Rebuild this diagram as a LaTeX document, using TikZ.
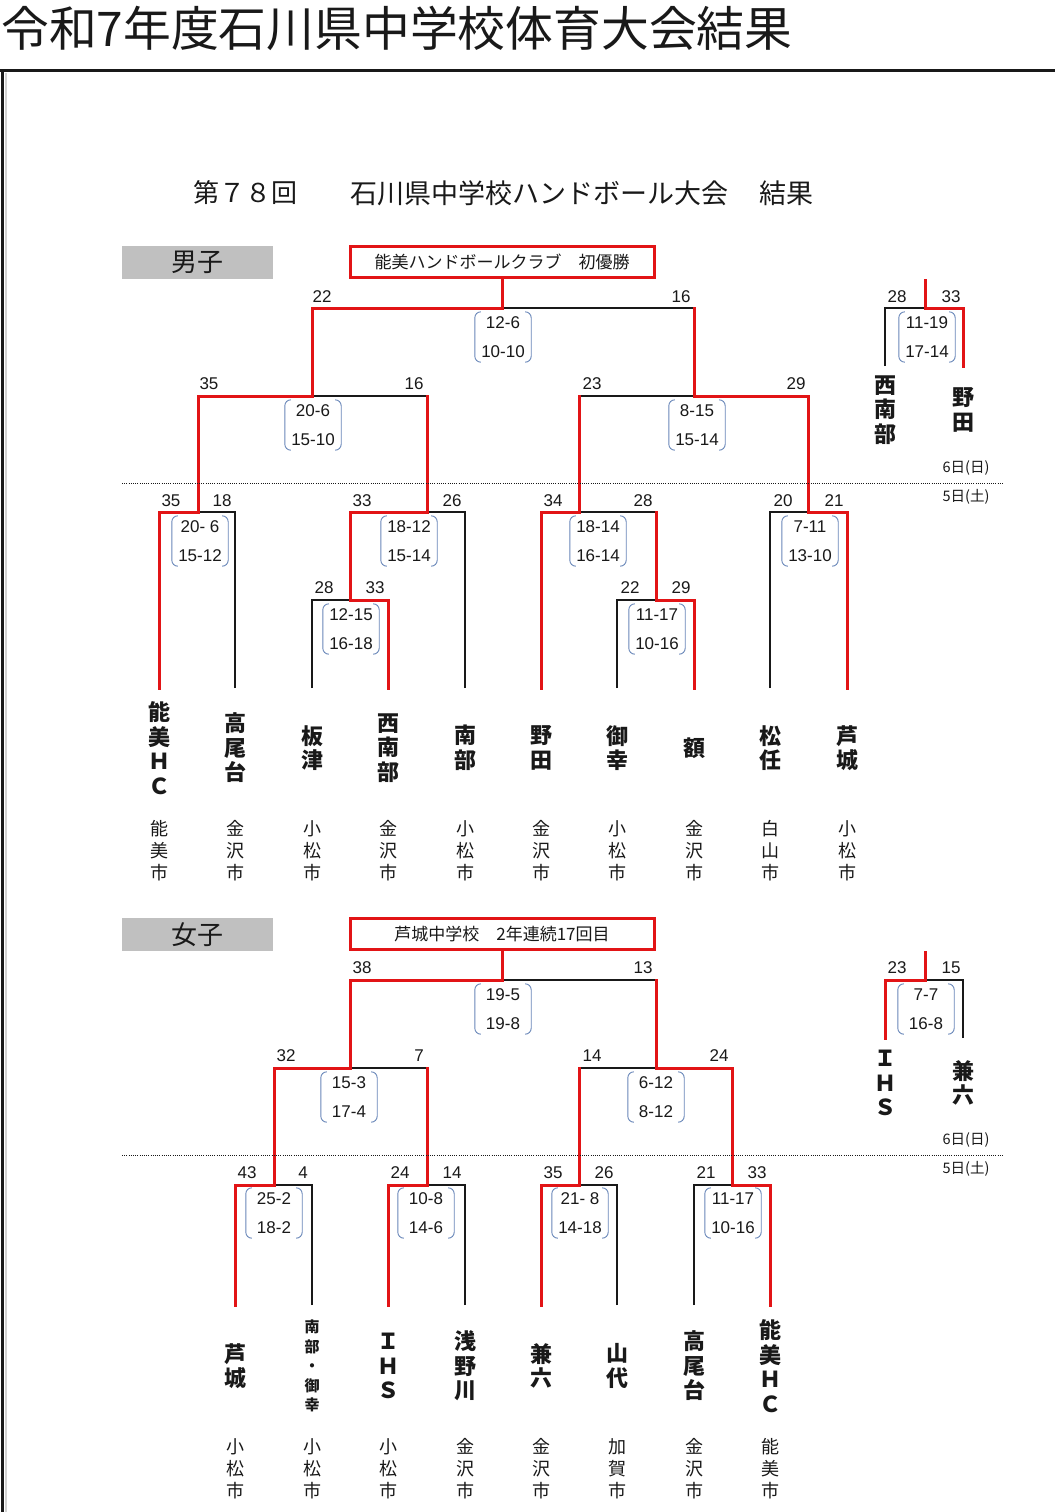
\documentclass[tikz,border=0pt]{standalone}
\usepackage{fontspec}
\setmainfont{Noto Sans CJK JP}
\newfontfamily\numfont{Liberation Sans}
\definecolor{hred}{RGB}{226,20,22}
\definecolor{boxgray}{RGB}{192,192,192}
\definecolor{bktc}{RGB}{105,135,185}
\definecolor{ink}{RGB}{25,25,25}
\tikzset{
 win/.style={draw=hred, line width=3pt, line cap=rect},
 lose/.style={draw=ink, line width=1.2pt},
 num/.style={font=\numfont\fontsize{17}{17}\selectfont, inner sep=0, text=ink},
 scorebox/.style={minimum width=56pt, minimum height=50pt, align=center, inner sep=0, text=ink, font=\numfont\fontsize{17}{29}\selectfont},
 bkt/.style={draw=bktc, line width=0.9pt, rounded corners=6pt},
 tname/.style={align=center, inner sep=0, text=ink, font=\bfseries\fontsize{22}{24.5}\selectfont},
 tsmall/.style={align=center, inner sep=0, text=ink, font=\bfseries\fontsize{15}{19.5}\selectfont},
 city/.style={align=center, inner sep=0, text=ink, font=\fontsize{18}{22}\selectfont},
 champ/.style={draw=hred, line width=3pt, minimum width=304pt, minimum height=31pt, inner sep=0, text=ink, font=\fontsize{17}{17}\selectfont},
 sexbox/.style={fill=boxgray, minimum width=151pt, minimum height=33pt, inner sep=0, text=ink, font=\fontsize{26}{26}\selectfont},
 datelbl/.style={font=\fontsize{14.5}{14.5}\selectfont, inner sep=0, text=ink},
 dotline/.style={draw=ink, line width=0.9pt, dash pattern=on 1pt off 1.2pt}
}
\newcommand\scorebx[4]{%
 \node[scorebox] (#1) at (#2,#3) {#4};
 \draw[bkt] ([xshift=6pt]#1.north west) -- (#1.north west) -- (#1.south west) -- ([xshift=6pt]#1.south west);
 \draw[bkt] ([xshift=-6pt]#1.north east) -- (#1.north east) -- (#1.south east) -- ([xshift=-6pt]#1.south east);
}
\begin{document}
\begin{tikzpicture}[x=1pt,y=-1pt]
\useasboundingbox (0,0) rectangle (1055,1512);
\fill[white] (0,0) rectangle (1055,1512);
% page title and frame
\node[anchor=west, inner sep=0, text=ink, font=\fontsize{47.8}{47.8}\selectfont] (title) at (1,28) {令和7年度石川県中学校体育大会結果};
\draw[ink, line width=3pt] (0,71) -- (1055,71);
\draw[ink, line width=3pt] (2.5,70) -- (2.5,1512);
\draw[gray!35, line width=2pt] (5.5,73) -- (5.5,1512);
% subtitle
\node[inner sep=0, text=ink, font=\fontsize{26}{26}\selectfont] (sub1) at (245,193) {第７８回};
\node[anchor=west, inner sep=0, text=ink, font=\fontsize{27}{27}\selectfont] (sub2) at (350,193) {石川県中学校ハンドボール大会};
\node[anchor=west, inner sep=0, text=ink, font=\fontsize{27}{27}\selectfont] (sub3) at (759,193) {結果};

%================ BOYS ================
\node[sexbox] (boys) at (197.5,262.5) {男子};
\node[champ] (bchamp) at (502,262) {能美ハンドボールクラブ　初優勝};
\foreach \i/\x in {1/159,2/235,3/312,4/388,5/465,6/541,7/617,8/694,9/770,10/847}
  \coordinate (bl\i) at (\x,688);
\coordinate (br1) at (350,600);
\coordinate (br2) at (656,600);
\coordinate (bq1) at (198,512);
\coordinate (bq2) at (427,512);
\coordinate (bq3) at (579,512);
\coordinate (bq4) at (808,512);
\coordinate (bs1) at (312,396);
\coordinate (bs2) at (694,396);
\coordinate (bf) at (502,308);
\coordinate (b3) at (925,308);
\coordinate (b3l) at (885,366);
\coordinate (b3r) at (963,366);
\coordinate (b3top) at (925,280);
% losing (black) lines
\draw[lose] (bl2) |- (bq1);
\draw[lose] (bl3) |- (br1);
\draw[lose] (bl5) |- (bq2);
\draw[lose] (bq2 |- bs1) -- (bs1);
\draw[lose] (bl7) |- (br2);
\draw[lose] (br2 |- bq3) -- (bq3);
\draw[lose] (bl9) |- (bq4);
\draw[lose] (bq3 |- bs2) -- (bs2);
\draw[lose] (bs2 |- bf) -- (bf);
\draw[lose] (b3l) |- (b3);
% winning (red) lines
\draw[win] (bl1) |- (bq1);
\draw[win] (bl4) |- (br1);
\draw[win] (br1) |- (bq2);
\draw[win] (bq1) |- (bs1);
\draw[win] (bq2) -- (bq2 |- bs1);
\draw[win] (bl6) |- (bq3);
\draw[win] (bl8) |- (br2);
\draw[win] (br2) -- (br2 |- bq3);
\draw[win] (bl10) |- (bq4);
\draw[win] (bq3) -- (bq3 |- bs2);
\draw[win] (bq4) |- (bs2);
\draw[win] (bs1) |- (bf);
\draw[win] (bs2) -- (bs2 |- bf);
\draw[win] (bf) -- (bchamp.south);
\draw[win] (b3r) |- (b3);
\draw[win] (b3) -- (b3top);
% goal numbers
\foreach \n/\x/\y/\t in {bn1/322/297/22, bn2/681/297/16, bn3/209/384/35, bn4/414/384/16, bn5/592/384/23, bn6/796/384/29,
  bn7/171/501/35, bn8/222/501/18, bn9/362/501/33, bn10/452/501/26, bn11/324/588/28, bn12/375/588/33,
  bn13/553/501/34, bn14/643/501/28, bn15/630/588/22, bn16/681/588/29, bn17/783/501/20, bn18/834/501/21,
  bn19/897/297/28, bn20/951/297/33}
  \node[num] (\n) at (\x,\y) {\t};
% half scores
\scorebx{bsc1}{503}{337}{12-6\\10-10}
\scorebx{bsc2}{313}{425}{20-6\\15-10}
\scorebx{bsc3}{697}{425}{8-15\\15-14}
\scorebx{bsc4}{200}{541}{20- 6\\15-12}
\scorebx{bsc5}{409}{541}{18-12\\15-14}
\scorebx{bsc6}{351}{629}{12-15\\16-18}
\scorebx{bsc7}{598}{541}{18-14\\16-14}
\scorebx{bsc8}{657}{629}{11-17\\10-16}
\scorebx{bsc9}{810}{541}{7-11\\13-10}
\scorebx{bsc10}{927}{337}{11-19\\17-14}
% dates
\draw[dotline] (122,483) -- (1003,483);
\node[datelbl] (bd6) at (966,468) {6日(日)};
\node[datelbl] (bd5) at (966,497) {5日(土)};
% team names
\node[tname] (nb1) at (159,748) {能\\美\\Ｈ\\Ｃ};
\node[tname] (nb2) at (235,748) {高\\尾\\台};
\node[tname] (nb3) at (312,748) {板\\津};
\node[tname] (nb4) at (388,748) {西\\南\\部};
\node[tname] (nb5) at (465,748) {南\\部};
\node[tname] (nb6) at (541,748) {野\\田};
\node[tname] (nb7) at (617,748) {御\\幸};
\node[tname] (nb8) at (694,748) {額};
\node[tname] (nb9) at (770,748) {松\\任};
\node[tname] (nb10) at (847,748) {芦\\城};
\node[tname] (nb3a) at (885,410) {西\\南\\部};
\node[tname] (nb3b) at (963,410) {野\\田};
\foreach \n/\x/\a/\b in {cb1/159/能/美, cb2/235/金/沢, cb3/312/小/松, cb4/388/金/沢, cb5/465/小/松,
  cb6/541/金/沢, cb7/617/小/松, cb8/694/金/沢, cb9/770/白/山, cb10/847/小/松}
  \node[city] (\n) at (\x,851) {\a\\\b\\市};

%================ GIRLS ================
\node[sexbox] (girls) at (197.5,934.5) {女子};
\node[champ] (gchamp) at (502,934) {芦城中学校　2年連続17回目};
\foreach \i/\x in {1/235,2/312,3/388,4/465,5/541,6/617,7/694,8/770}
  \coordinate (gl\i) at (\x,1305);
\coordinate (gq1) at (274,1185);
\coordinate (gq2) at (427,1185);
\coordinate (gq3) at (579,1185);
\coordinate (gq4) at (732,1185);
\coordinate (gs1) at (350,1068);
\coordinate (gs2) at (656,1068);
\coordinate (gf) at (502,980);
\coordinate (g3) at (925,980);
\coordinate (g3l) at (885,1038);
\coordinate (g3r) at (963,1038);
\coordinate (g3top) at (925,952);
\draw[lose] (gl2) |- (gq1);
\draw[lose] (gl4) |- (gq2);
\draw[lose] (gl6) |- (gq3);
\draw[lose] (gl7) |- (gq4);
\draw[lose] (gq2 |- gs1) -- (gs1);
\draw[lose] (gq3 |- gs2) -- (gs2);
\draw[lose] (gs2 |- gf) -- (gf);
\draw[lose] (g3r) |- (g3);
\draw[win] (gl1) |- (gq1);
\draw[win] (gl3) |- (gq2);
\draw[win] (gl5) |- (gq3);
\draw[win] (gl8) |- (gq4);
\draw[win] (gq1) |- (gs1);
\draw[win] (gq2) -- (gq2 |- gs1);
\draw[win] (gq3) -- (gq3 |- gs2);
\draw[win] (gq4) |- (gs2);
\draw[win] (gs1) |- (gf);
\draw[win] (gs2) -- (gs2 |- gf);
\draw[win] (gf) -- (gchamp.south);
\draw[win] (g3l) |- (g3);
\draw[win] (g3) -- (g3top);
\foreach \n/\x/\y/\t in {gn1/362/968/38, gn2/643/968/13, gn3/286/1056/32, gn4/419/1056/7, gn5/592/1056/14, gn6/719/1056/24,
  gn7/247/1173/43, gn8/303/1173/4, gn9/400/1173/24, gn10/452/1173/14, gn11/553/1173/35, gn12/604/1173/26,
  gn13/706/1173/21, gn14/757/1173/33, gn15/897/968/23, gn16/951/968/15}
  \node[num] (\n) at (\x,\y) {\t};
\scorebx{gsc1}{503}{1009}{19-5\\19-8}
\scorebx{gsc2}{349}{1097}{15-3\\17-4}
\scorebx{gsc3}{656}{1097}{6-12\\8-12}
\scorebx{gsc4}{274}{1213}{25-2\\18-2}
\scorebx{gsc5}{426}{1213}{10-8\\14-6}
\scorebx{gsc6}{580}{1213}{21- 8\\14-18}
\scorebx{gsc7}{733}{1213}{11-17\\10-16}
\scorebx{gsc8}{926}{1009}{7-7\\16-8}
\draw[dotline] (122,1155) -- (1003,1155);
\node[datelbl] (gd6) at (966,1140) {6日(日)};
\node[datelbl] (gd5) at (966,1169) {5日(土)};
\node[tname] (ng1) at (235,1366) {芦\\城};
\node[tsmall] (ng2) at (312,1366) {南\\部\\・\\御\\幸};
\node[tname] (ng3) at (388,1366) {Ｉ\\Ｈ\\Ｓ};
\node[tname] (ng4) at (465,1366) {浅\\野\\川};
\node[tname] (ng5) at (541,1366) {兼\\六};
\node[tname] (ng6) at (617,1366) {山\\代};
\node[tname] (ng7) at (694,1366) {高\\尾\\台};
\node[tname] (ng8) at (770,1366) {能\\美\\Ｈ\\Ｃ};
\node[tname] (ng3a) at (885,1083) {Ｉ\\Ｈ\\Ｓ};
\node[tname] (ng3b) at (963,1083) {兼\\六};
\foreach \n/\x/\a/\b in {cg1/235/小/松, cg2/312/小/松, cg3/388/小/松, cg4/465/金/沢,
  cg5/541/金/沢, cg6/617/加/賀, cg7/694/金/沢, cg8/770/能/美}
  \node[city] (\n) at (\x,1469) {\a\\\b\\市};
\end{tikzpicture}
\end{document}
